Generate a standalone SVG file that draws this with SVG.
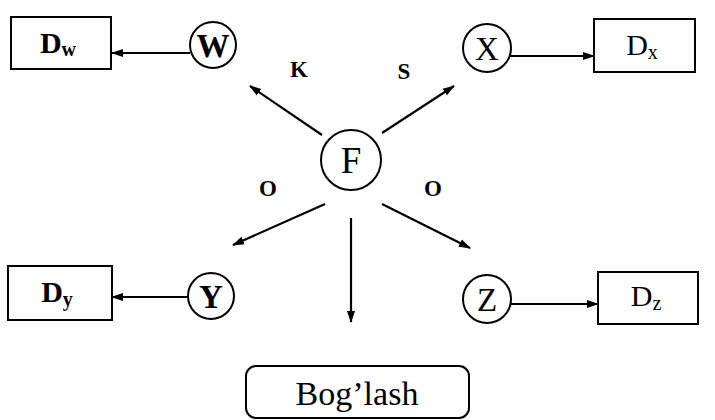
<svg xmlns="http://www.w3.org/2000/svg" width="715" height="420" viewBox="0 0 715 420">
<defs>
<marker id="ah" viewBox="0 0 12 10" refX="11" refY="5" markerWidth="12" markerHeight="10" orient="auto" markerUnits="userSpaceOnUse">
<path d="M0,1 L12,5 L0,9 z" fill="#000"/>
</marker>
<style>
.box{fill:#fff;stroke:#000;stroke-width:2}
.node{fill:#fff;stroke:#000;stroke-width:2}
.t{font-family:"Liberation Serif","Times New Roman",serif;fill:#000;text-anchor:middle}
.lbl{font-size:30px}
.cl{font-size:33px}
.sub{font-size:20px}
.edge{stroke:#000;stroke-width:2.2;fill:none;marker-end:url(#ah)}
.mark{font-family:"Liberation Serif",serif;font-size:23px;font-weight:bold;fill:#000;text-anchor:middle}
</style>
</defs>
<rect width="715" height="420" fill="#fff"/>
<g id="connectors">
<line class="edge" x1="190" y1="53" x2="112" y2="53"/>
<line class="edge" x1="510" y1="56" x2="594" y2="56"/>
<line class="edge" x1="188" y1="297" x2="112" y2="297"/>
<line class="edge" x1="510" y1="304" x2="598" y2="304"/>
<line class="edge" x1="322" y1="135" x2="250" y2="86"/>
<line class="edge" x1="382" y1="133" x2="454" y2="86"/>
<line class="edge" x1="325" y1="204" x2="233" y2="245"/>
<line class="edge" x1="382" y1="204" x2="470" y2="248"/>
<line class="edge" x1="351" y1="218" x2="351" y2="322"/>
</g>
<g id="Dw"><rect class="box" x="11" y="17" width="100" height="52"/><text class="t" x="58" y="53"><tspan class="lbl" font-weight="bold">D</tspan><tspan class="sub" font-weight="bold" dy="3">w</tspan></text></g>
<g id="W"><circle class="node" cx="213" cy="45" r="23"/><text class="t cl" x="213" y="57" font-weight="bold">W</text></g>
<g id="X"><circle class="node" cx="487" cy="48" r="24"/><text class="t cl" x="487" y="60">X</text></g>
<g id="Dx"><rect class="box" x="594" y="19" width="101" height="53"/><text class="t" x="642" y="55"><tspan class="lbl">D</tspan><tspan class="sub" dy="4">x</tspan></text></g>
<g id="F"><circle class="node" cx="351" cy="160" r="30"/><text class="t" x="351" y="173" font-size="37">F</text></g>
<g id="Y"><circle class="node" cx="211" cy="296" r="23"/><text class="t cl" x="211" y="308" font-weight="bold">Y</text></g>
<g id="Dy"><rect class="box" x="8" y="266" width="104" height="54"/><text class="t" x="57" y="302"><tspan class="lbl" font-weight="bold">D</tspan><tspan class="sub" font-weight="bold" dy="4">y</tspan></text></g>
<g id="Z"><circle class="node" cx="487" cy="299" r="24"/><text class="t cl" x="487" y="311">Z</text></g>
<g id="Dz"><rect class="box" x="598" y="272" width="100" height="52"/><text class="t" x="646" y="306"><tspan class="lbl">D</tspan><tspan class="sub" dy="4">z</tspan></text></g>
<g id="Boglash"><rect class="box" x="246" y="366" width="223" height="52" rx="10"/><text class="t" x="357" y="405" font-size="34">Bog’lash</text></g>
<g id="labels">
<text class="mark" x="299" y="77">K</text>
<text class="mark" x="404" y="79">S</text>
<text class="mark" x="268" y="196">O</text>
<text class="mark" x="433" y="196">O</text>
</g>
</svg>
